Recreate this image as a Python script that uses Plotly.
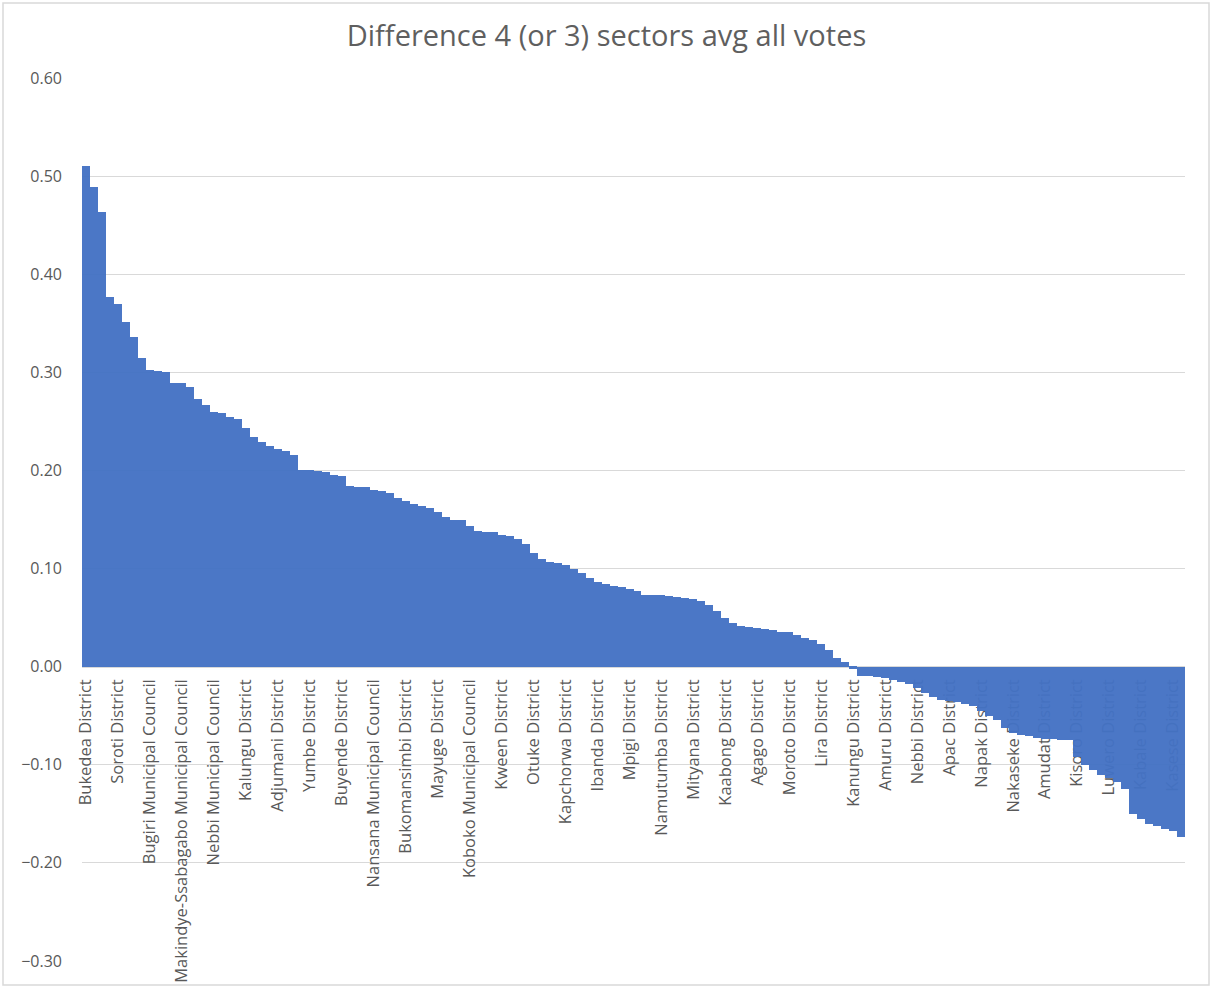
import plotly.graph_objects as go

title_text = "Difference 4 (or 3) sectors avg all votes"

# One value per sector (sorted, descending)
diff_values = [
    0.510, 0.489, 0.463, 0.377, 0.370, 0.351, 0.336, 0.315,
    0.302, 0.301, 0.300, 0.289, 0.289, 0.285, 0.273, 0.267,
    0.260, 0.259, 0.254, 0.252, 0.243, 0.234, 0.229, 0.225,
    0.222, 0.220, 0.216, 0.200, 0.200, 0.199, 0.198, 0.195,
    0.194, 0.184, 0.183, 0.183, 0.180, 0.179, 0.177, 0.172,
    0.169, 0.166, 0.164, 0.162, 0.158, 0.153, 0.150, 0.149,
    0.143, 0.138, 0.137, 0.137, 0.134, 0.133, 0.130, 0.125,
    0.116, 0.110, 0.107, 0.106, 0.104, 0.100, 0.095, 0.090,
    0.086, 0.084, 0.082, 0.081, 0.079, 0.077, 0.073, 0.073,
    0.073, 0.072, 0.071, 0.070, 0.069, 0.067, 0.063, 0.057,
    0.050, 0.045, 0.041, 0.040, 0.039, 0.038, 0.037, 0.035,
    0.035, 0.032, 0.029, 0.027, 0.023, 0.017, 0.009, 0.005,
    -0.002, -0.010, -0.010, -0.011, -0.012, -0.014, -0.016, -0.018,
    -0.022, -0.027, -0.031, -0.034, -0.035, -0.036, -0.038, -0.040,
    -0.045, -0.050, -0.054, -0.062, -0.068, -0.070, -0.071, -0.073,
    -0.074, -0.074, -0.075, -0.075, -0.092, -0.100, -0.105, -0.110,
    -0.113, -0.118, -0.125, -0.150, -0.155, -0.160, -0.162, -0.165,
    -0.168, -0.174,
]

# Category labels that are shown on the axis (every 4th sector)
tick_labels = [
    "Bukedea District", "Soroti District", "Bugiri Municipal Council",
    "Makindye-Ssabagabo Municipal Council", "Nebbi Municipal Council",
    "Kalungu District", "Adjumani District", "Yumbe District",
    "Buyende District", "Nansana Municipal Council", "Bukomansimbi District",
    "Mayuge District", "Koboko Municipal Council", "Kween District",
    "Otuke District", "Kapchorwa District", "Ibanda District",
    "Mpigi District", "Namutumba District", "Mityana District",
    "Kaabong District", "Agago District", "Moroto District", "Lira District",
    "Kanungu District", "Amuru District", "Nebbi District", "Apac District",
    "Napak District", "Nakaseke District", "Amudat District",
    "Kisoro District", "Luwero District", "Kabale District", "Kasese District",
]
label_step = 4

y_ticks = [0.6, 0.5, 0.4, 0.3, 0.2, 0.1, 0.0, -0.1, -0.2, -0.3]

x_index = list(range(len(diff_values)))
tick_positions = [i * label_step for i in range(len(tick_labels))]

W, H = 1213, 989
ML, MR, MT, MB = 82, 28, 78, 28
pw, ph = W - ML - MR, H - MT - MB

y_min, y_max = -0.3, 0.6
FONT = "Open Sans, Liberation Sans, Arial, sans-serif"

fig = go.Figure()
fig.add_trace(go.Bar(
    x=x_index, y=diff_values,
    marker=dict(color="#4472C4", line=dict(width=0)),
    opacity=0.96,
    hoverinfo="y",
))

fig.update_layout(
    width=W, height=H,
    margin=dict(l=ML, r=MR, t=MT, b=MB, autoexpand=False),
    paper_bgcolor="white", plot_bgcolor="white",
    bargap=0,
    showlegend=False,
    font=dict(family=FONT, color="#595959"),
    title=dict(text=title_text, x=0.5, xanchor="center", y=1 - 36 / H, yanchor="middle",
               font=dict(size=29, color="#5f5f5f", family=FONT)),
    xaxis=dict(
        range=[-0.5, len(diff_values) - 0.5],
        tickmode="array", tickvals=tick_positions, ticktext=tick_labels,
        tickangle=-90, tickfont=dict(size=16.5, color="#595959", family=FONT),
        showgrid=False, zeroline=False,
        showline=True, linecolor="#d9d9d9", linewidth=1,
        anchor="free", position=(0 - y_min) / (y_max - y_min),
        layer="below traces", automargin=False,
        ticks="", ticklabelstandoff=5,
    ),
    yaxis=dict(
        range=[y_min, y_max],
        tickmode="array", tickvals=y_ticks,
        tickformat=".2f",
        tickfont=dict(size=16, color="#595959", family=FONT),
        showgrid=True, gridcolor="#d9d9d9", gridwidth=1,
        zeroline=False, showline=False, ticks="", automargin=False,
        ticklabelstandoff=19,
    ),
)

# thin outer chart border
fig.add_shape(type="rect", xref="paper", yref="paper",
              x0=(3 - ML) / pw, x1=(1209 - ML) / pw,
              y0=1 - (985 - MT) / ph, y1=1 - (3 - MT) / ph,
              line=dict(color="#d9d9d9", width=1.5), fillcolor="rgba(0,0,0,0)", layer="below")

fig.write_html(
    "out.html",
    config={"displayModeBar": False},
    post_script="document.body.style.margin='0';document.body.style.overflow='hidden';",
)
